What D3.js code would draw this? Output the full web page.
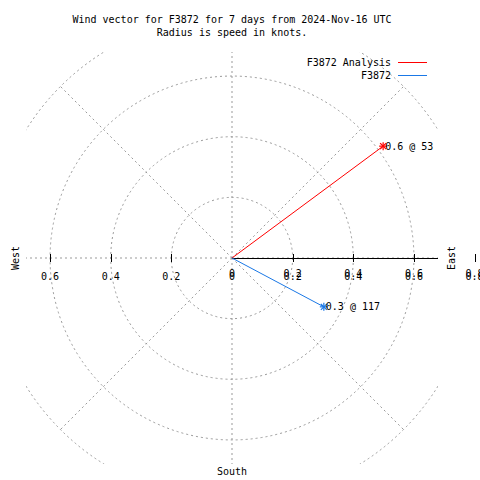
<!DOCTYPE html>
<html><head><meta charset="utf-8">
<script src="https://cdn.jsdelivr.net/npm/d3@7"></script>
<style>html,body{margin:0;padding:0;background:#fff}svg{display:block}text{font-family:"DejaVu Sans Mono",monospace;font-size:10px;fill:#000}</style>
</head><body><div id="chart"></div>
<script>
const titleLines = ["Wind vector for F3872 for 7 days from 2024-Nov-16 UTC", "Radius is speed in knots."];
const seriesNames = ["F3872 Analysis", "F3872"];
const speeds = [0.62, 0.343];
const directions = [53.5, 118];
const vectorLabels = ["0.6 @ 53", "0.3 @ 117"];
const ringValues = [0.2, 0.4, 0.6, 0.8];
const tickValues = [0.2, 0.4, 0.6, 0.8];
const tickLabels = ["0.2", "0.4", "0.6", "0.8"];
const leftTickValues = [0.2, 0.4, 0.6];
const leftTickLabels = ["0.2", "0.4", "0.6"];
const spokeAngles = [0, 45, 90, 135, 180, 225, 270, 315];
const compassLabels = ["East", "South", "West"];

const W = 480, H = 480, cx = 232, cy = 258;
const svg = d3.select("#chart").append("svg").attr("width", W).attr("height", H);
const r = d3.scaleLinear().domain([0, 0.8]).range([0, 242.6]);
const xR = d3.scaleLinear().domain([0, 0.8]).range([cx, cx + 242.6]);
const xL = d3.scaleLinear().domain([0, 0.8]).range([cx, cx - 242.6]);
const color = d3.scaleOrdinal().domain(seriesNames).range(["#ff0000", "#1a78e6"]);
const grid = "#999999";

svg.append("defs").append("clipPath").attr("id", "clip")
  .append("rect").attr("x", 26).attr("y", 52).attr("width", 412).attr("height", 412);

const g = svg.append("g").attr("clip-path", "url(#clip)");
g.selectAll("circle.ring").data(ringValues).join("circle")
  .attr("cx", cx).attr("cy", cy).attr("r", d => r(d))
  .attr("fill", "none").attr("stroke", grid).attr("stroke-width", 1).attr("stroke-dasharray", "2,3");
const pol = (ang, v) => [cx + r(v) * Math.sin(ang * Math.PI / 180), cy - r(v) * Math.cos(ang * Math.PI / 180)];
g.selectAll("line.spoke").data(spokeAngles).join("line")
  .attr("x1", cx).attr("y1", cy)
  .attr("x2", d => pol(d, 0.8)[0]).attr("y2", d => pol(d, 0.8)[1])
  .attr("stroke", grid).attr("stroke-dasharray", "2,3");
g.append("line").attr("x1", cx).attr("x2", xR(0.8)).attr("y1", cy + 0.5).attr("y2", cy + 0.5)
  .attr("stroke", "#000").attr("stroke-width", 1);

svg.selectAll("line.rt").data(tickValues).join("line").attr("class", "rt")
  .attr("x1", d => Math.round(xR(d)) + 0.5).attr("x2", d => Math.round(xR(d)) + 0.5)
  .attr("y1", cy - 4).attr("y2", cy + 4).attr("stroke", "#000");
svg.selectAll("line.lt").data(leftTickValues).join("line").attr("class", "lt")
  .attr("x1", d => Math.round(xL(d)) + 0.5).attr("x2", d => Math.round(xL(d)) + 0.5)
  .attr("y1", cy - 4).attr("y2", cy + 4).attr("stroke", "#000");

svg.selectAll("text.ll").data(leftTickValues).join("text").attr("class", "ll")
  .attr("x", d => xL(d)).attr("y", 280).attr("text-anchor", "middle")
  .text((d, i) => leftTickLabels[i]);
const rightTicks = [0].concat(tickValues);
const rightLabels = ["0"].concat(tickLabels);
[276.5, 280].forEach(yb => {
  svg.selectAll(null).data(rightTicks).join("text")
    .attr("x", d => xR(d)).attr("y", yb).attr("text-anchor", "middle")
    .text((d, i) => rightLabels[i]);
});

svg.append("text").attr("transform", `translate(455,${cy}) rotate(-90)`).attr("text-anchor", "middle").text(compassLabels[0]);
svg.append("text").attr("x", cx).attr("y", 475).attr("text-anchor", "middle").text(compassLabels[1]);
svg.append("text").attr("transform", `translate(19,${cy}) rotate(-90)`).attr("text-anchor", "middle").text(compassLabels[2]);

svg.selectAll("text.title").data(titleLines).join("text").attr("class", "title")
  .attr("x", 232).attr("y", (d, i) => 23 + i * 13).attr("text-anchor", "middle").text(d => d);

const vecs = seriesNames.map((n, i) => ({ name: n, v: speeds[i], dir: directions[i], label: vectorLabels[i] }));
const vg = svg.selectAll("g.vec").data(vecs).join("g").attr("class", "vec");
vg.append("line").attr("x1", cx).attr("y1", cy)
  .attr("x2", d => pol(d.dir, d.v)[0]).attr("y2", d => pol(d.dir, d.v)[1])
  .attr("stroke", d => color(d.name)).attr("stroke-width", 1);
vg.each(function(d) {
  const [px, py] = pol(d.dir, d.v);
  const s = d3.select(this);
  const k = 4;
  const segs = [[-k, 0, k, 0], [0, -k, 0, k], [-k * 0.75, -k * 0.75, k * 0.75, k * 0.75], [-k * 0.75, k * 0.75, k * 0.75, -k * 0.75]];
  segs.forEach(sg => s.append("line")
    .attr("x1", px + sg[0]).attr("y1", py + sg[1]).attr("x2", px + sg[2]).attr("y2", py + sg[3])
    .attr("stroke", color(d.name)).attr("stroke-width", 1.2));
  s.append("text").attr("x", px + 2).attr("y", py + 3.5).text(d.label);
});

const lg = svg.selectAll("g.leg").data(seriesNames).join("g").attr("class", "leg")
  .attr("transform", (d, i) => `translate(0,${i * 13})`);
lg.append("text").attr("x", 391).attr("y", 66).attr("text-anchor", "end").text(d => d);
lg.append("line").attr("x1", 398).attr("x2", 427).attr("y1", 62.5).attr("y2", 62.5)
  .attr("stroke", d => color(d)).attr("stroke-width", 1);
</script></body></html>
